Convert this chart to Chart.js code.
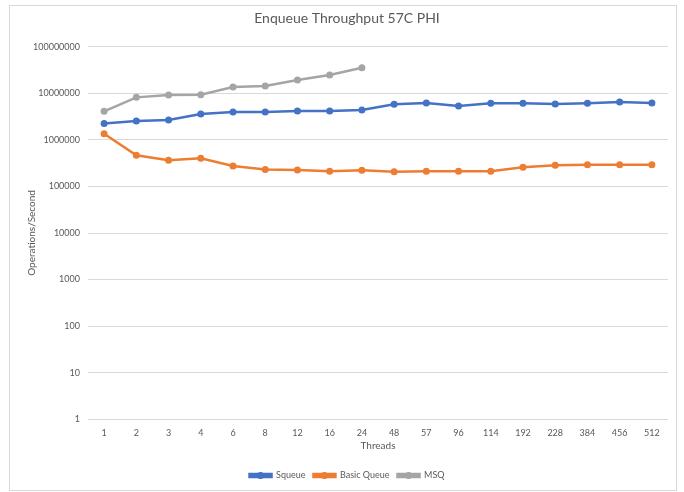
<!DOCTYPE html>
<html>
<head>
<meta charset="utf-8">
<script src="https://cdn.jsdelivr.net/npm/chart.js@4"></script>
<style>
  body { margin: 0; background: #fff; }
  #box { position: absolute; left: 9px; top: 5px; width: 666px; height: 484px; border: 1px solid #d9d9d9; }
</style>
</head>
<body>
<div id="box"><canvas id="myChart" width="666" height="484"></canvas></div>
<script>
var threads = ["1","2","3","4","6","8","12","16","24","48","57","96","114","192","228","384","456","512"]

var squeue = [2260000,2540000,2670000,3590000,3960000,3960000,4160000,4200000,4370000,5800000,6180000,5330000,6100000,6100000,5890000,6100000,6500000,6180000]
var basicQueue = [1350000,469000,366000,404000,276000,230000,226000,212000,223000,208000,212000,212000,212000,259000,286000,294000,294000,294000]
var msq = [4100000,8200000,9200000,9300000,13700000,14400000,19300000,24800000,35500000]

var tickVals = [1,10,100,1000,10000,100000,1000000,10000000,100000000]

Chart.defaults.font.family = "Lato, 'Open Sans', sans-serif"
Chart.defaults.color = "#595959"

// draw a marker dot on each legend line, like Excel does
var legendDots = {
    id: "legendDots",
    afterDraw: function(chart) {
        var lg = chart.legend
        if (!lg || !lg.legendHitBoxes) return
        var ctx = chart.ctx
        lg.legendHitBoxes.forEach(function(b, i) {
            var ds = chart.data.datasets[i]
            ctx.save()
            ctx.fillStyle = ds.borderColor
            ctx.beginPath()
            ctx.arc(b.left + 11, b.top + b.height / 2, 3.5, 0, Math.PI * 2)
            ctx.fill()
            ctx.restore()
        })
    }
}

var ctx = document.getElementById("myChart").getContext("2d")

var chart = new Chart(ctx, {
    type: "line",
    data: {
        labels: threads,
        datasets: [
            { label: "Squeue", data: squeue, borderColor: "#4472C4", backgroundColor: "#4472C4" },
            { label: "Basic Queue", data: basicQueue, borderColor: "#ED7D31", backgroundColor: "#ED7D31" },
            { label: "MSQ", data: msq, borderColor: "#A5A5A5", backgroundColor: "#A5A5A5" }
        ]
    },
    options: {
        responsive: false,
        animation: false,
        elements: {
            line: { borderWidth: 2.5, tension: 0 },
            point: { radius: 3.5, borderWidth: 0 }
        },
        layout: { padding: { left: 16, right: 8, top: 0, bottom: 0 } },
        plugins: {
            title: {
                display: true,
                text: "Enqueue Throughput 57C PHI",
                font: { size: 14, weight: "normal" },
                color: "#595959",
                padding: { top: 4, bottom: 20 }
            },
            legend: {
                position: "bottom",
                labels: {
                    boxWidth: 22,
                    boxHeight: 3,
                    padding: 8,
                    font: { size: 9 },
                    color: "#595959"
                }
            },
            tooltip: { enabled: false }
        },
        scales: {
            x: {
                offset: true,
                grid: { display: false },
                border: { display: false },
                ticks: { font: { size: 9 }, padding: 0 },
                title: { display: true, text: "Threads", font: { size: 10 }, padding: { top: 2, bottom: 11 } }
            },
            y: {
                type: "logarithmic",
                min: 1,
                max: 100000000,
                afterBuildTicks: function(s) {
                    s.ticks = tickVals.map(function(v) { return { value: v } })
                },
                afterFit: function(s) { s.width = 62 },
                grid: { color: "#d9d9d9", drawTicks: false },
                border: { display: false },
                ticks: {
                    font: { size: 9 },
                    padding: 8,
                    callback: function(v) { return String(v) }
                },
                title: { display: true, text: "Operations/Second", font: { size: 10 }, padding: 0 }
            }
        }
    },
    plugins: [legendDots]
})
</script>
</body>
</html>
